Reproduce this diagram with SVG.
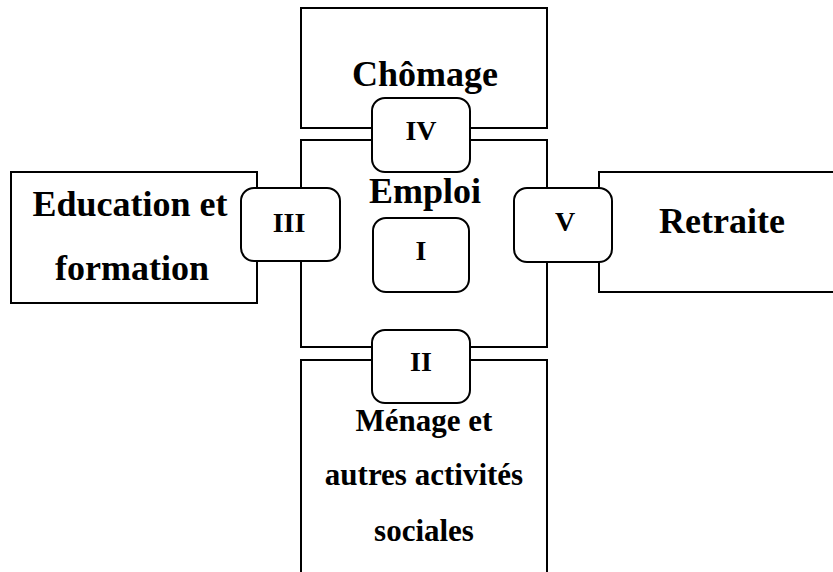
<svg xmlns="http://www.w3.org/2000/svg" width="833" height="572" viewBox="0 0 833 572">
<style>
.box{fill:#fff;stroke:#000;stroke-width:2}
.rbox{fill:#fff;stroke:#000;stroke-width:2}
text{font-family:"Liberation Serif","Times New Roman",serif;font-weight:bold;fill:#000;text-anchor:middle}
.big{font-size:36px}
.mid{font-size:31px}
.num{font-size:28px}
</style>
<rect width="833" height="572" fill="#fff"/>
<g id="connectors"></g>
<g id="chomage"><rect class="box" x="301" y="8" width="246" height="120"/><text class="big" x="425" y="86">Chômage</text></g>
<g id="emploi"><rect class="box" x="301" y="140" width="246" height="207"/><text class="big" x="425" y="203">Emploi</text></g>
<g id="menage"><rect class="box" x="301" y="360" width="246" height="230"/>
<text class="mid" x="424" y="431">Ménage et</text>
<text class="mid" x="424" y="485">autres activités</text>
<text class="mid" x="424" y="541">sociales</text></g>
<g id="education"><rect class="box" x="11" y="172" width="246" height="131"/>
<text class="big" x="130" y="216">Education et</text>
<text class="big" x="132" y="280">formation</text></g>
<g id="retraite"><rect class="box" x="599" y="172" width="250" height="120"/><text class="big" x="722" y="233">Retraite</text></g>
<g id="n-iv"><rect class="rbox" x="372" y="98" width="98" height="74" rx="13"/><text class="num" x="421" y="140">IV</text></g>
<g id="n-iii"><rect class="rbox" x="241" y="188" width="99" height="73" rx="13"/><text class="num" x="289" y="232">III</text></g>
<g id="n-v"><rect class="rbox" x="514" y="188" width="98" height="74" rx="13"/><text class="num" x="565" y="231">V</text></g>
<g id="n-i"><rect class="rbox" x="373" y="218" width="96" height="74" rx="13"/><text class="num" x="421" y="260">I</text></g>
<g id="n-ii"><rect class="rbox" x="372" y="330" width="98" height="73" rx="13"/><text class="num" x="421" y="371">II</text></g>
</svg>
